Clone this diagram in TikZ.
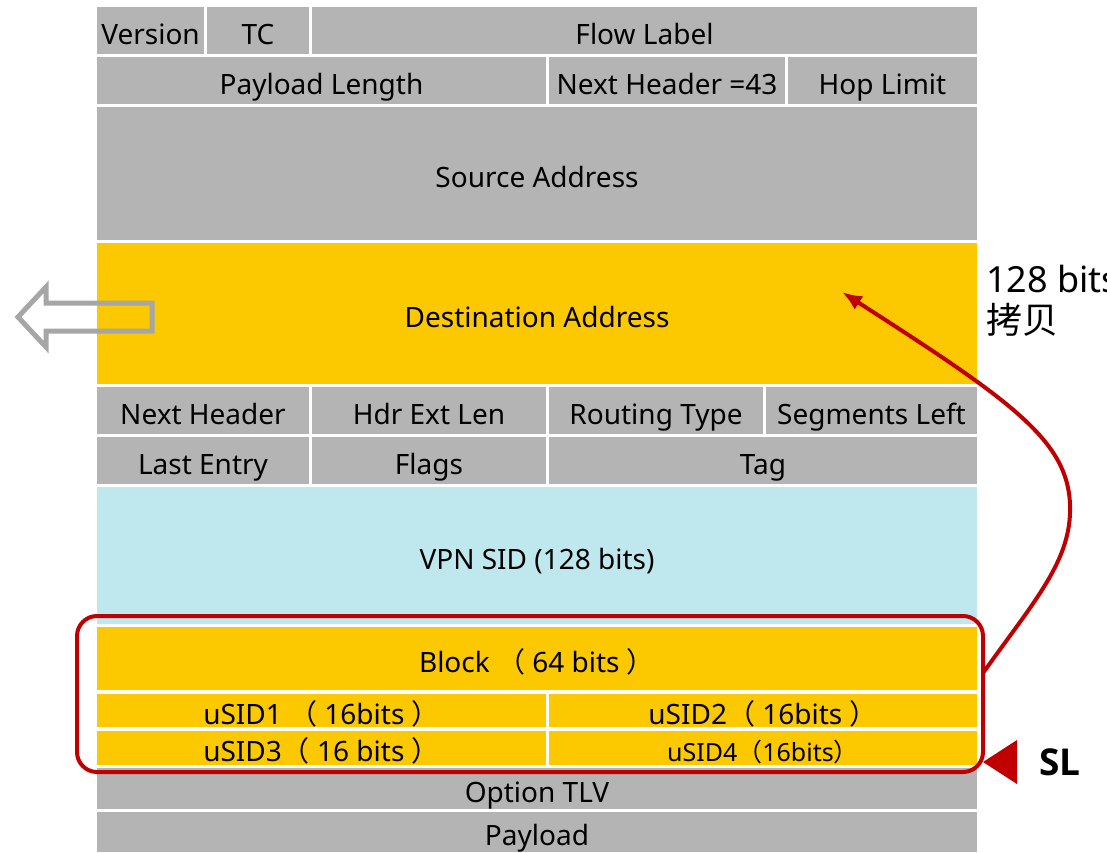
\documentclass[tikz,border=0pt]{standalone}
\usepackage{fontspec}
\setmainfont{Noto Sans}
\newfontfamily\cjk{Noto Sans CJK SC}
\newfontfamily\labelsans{Open Sans}
\usetikzlibrary{arrows.meta}
\definecolor{hdrgrey}{HTML}{B4B4B4}
\definecolor{hdryellow}{HTML}{FCC800}
\definecolor{hdrcyan}{HTML}{BEE8EE}
\definecolor{hdrred}{HTML}{C00000}
\definecolor{arrowgrey}{HTML}{A6A6A6}
\tikzset{
  field/.style={inner sep=0pt, outer sep=0pt, text height=27pt, text depth=0pt,
                font=\fontsize{28}{32}\selectfont, text=black},
}
% \fieldbox{name}{x1}{y1}{x2}{y2}{colour}{text}
\newcommand{\fieldbox}[7]{%
  \pgfmathsetmacro{\fw}{#4-#2}\pgfmathsetmacro{\fh}{#5-#3}%
  \pgfmathsetmacro{\fx}{(#2+#4)/2}\pgfmathsetmacro{\fy}{(#3+#5)/2}%
  \node[field, fill=#6, minimum width=\fw pt, minimum height=\fh pt] (#1) at (\fx,\fy) {#7};%
}
\newcommand{\lp}{{\cjk （}}
\newcommand{\rp}{{\cjk ）}}
\begin{document}
\begin{tikzpicture}[x=1pt,y=-1pt]
\useasboundingbox (0,0) rectangle (1107,852);
\clip (0,0) rectangle (1107,852);
\fill[white] (0,0) rectangle (1107,852);

% IPv6 header
\fieldbox{ver}{97}{7}{204}{54}{hdrgrey}{Version}
\fieldbox{tc}{207}{7}{309}{54}{hdrgrey}{TC}
\fieldbox{flow}{312}{7}{977}{54}{hdrgrey}{Flow Label}
\fieldbox{plen}{97}{57}{546}{104}{hdrgrey}{Payload Length}
\fieldbox{nxt}{549}{57}{785}{104}{hdrgrey}{Next Header =43}
\fieldbox{hop}{788}{57}{977}{104}{hdrgrey}{Hop Limit}
\fieldbox{src}{97}{107}{977}{240}{hdrgrey}{Source Address}
\fieldbox{dst}{97}{243}{977}{384}{hdryellow}{Destination Address}

% Segment routing header
\fieldbox{nh}{97}{387}{309}{434}{hdrgrey}{Next Header}
\fieldbox{hel}{312}{387}{546}{434}{hdrgrey}{Hdr Ext Len}
\fieldbox{rt}{549}{387}{763}{434}{hdrgrey}{Routing Type}
\fieldbox{segl}{766}{387}{977}{434}{hdrgrey}{Segments Left}
\fieldbox{le}{97}{437}{309}{484}{hdrgrey}{Last Entry}
\fieldbox{flags}{312}{437}{546}{484}{hdrgrey}{Flags}
\fieldbox{tag}{549}{437}{977}{484}{hdrgrey}{Tag}
\fieldbox{vpn}{97}{487}{977}{624}{hdrcyan}{VPN SID (128 bits)}
\fieldbox{block}{97}{627}{977}{690}{hdryellow}{Block \lp{} 64 bits \rp}
\fieldbox{usid1}{97}{694}{546}{727}{hdryellow}{uSID1 \lp{} 16bits \rp}
\fieldbox{usid2}{549}{694}{977}{727}{hdryellow}{uSID2\lp{} 16bits \rp}
\fieldbox{usid3}{97}{731}{546}{765}{hdryellow}{uSID3\lp{} 16 bits \rp}
\fieldbox{usid4}{549}{731}{977}{765}{hdryellow}{\fontsize{25}{28}\selectfont uSID4\lp16bits\rp}
\fieldbox{opt}{97}{768}{977}{809}{hdrgrey}{Option TLV}
\fieldbox{pay}{97}{812}{977}{852}{hdrgrey}{Payload}

% Compressed SID container frame
\node[draw=hdrred, line width=4pt, rounded corners=20pt, inner sep=0pt,
      minimum width=906pt, minimum height=156pt] (frame) at (530,694) {};

% Copy arrow into the destination address
\coordinate (cpystart) at (983,673);
\coordinate (cpyend) at (842,292);
\draw[hdrred, line width=4pt, -{Latex[length=20pt,width=16pt]}]
  (cpystart) .. controls (1035,600) and (1072,560) .. (1070,505)
             .. controls (1068,440) and (1010,400) .. (cpyend);
\node[anchor=base west, inner sep=0pt, font=\fontsize{36}{40}\selectfont] (bits) at (986,292) {128 bits};
\node[anchor=base west, inner sep=0pt, font=\cjk\fontsize{36}{40}\selectfont] (copy) at (986,333) {拷贝};

% Outgoing hollow arrow
\draw[arrowgrey, line width=5pt, line join=miter]
  (152,303) -- (46,303) -- (46,287) -- (18,317) -- (46,347) -- (46,331) -- (152,331) -- cycle;

% Segments Left pointer
\fill[hdrred] (983,762) -- (1017,740) -- (1017,784) -- cycle;
\node[anchor=base, font=\labelsans\bfseries\fontsize{37}{40}\selectfont, inner sep=0pt] (slbl) at (1060,775) {SL};
\end{tikzpicture}
\end{document}
